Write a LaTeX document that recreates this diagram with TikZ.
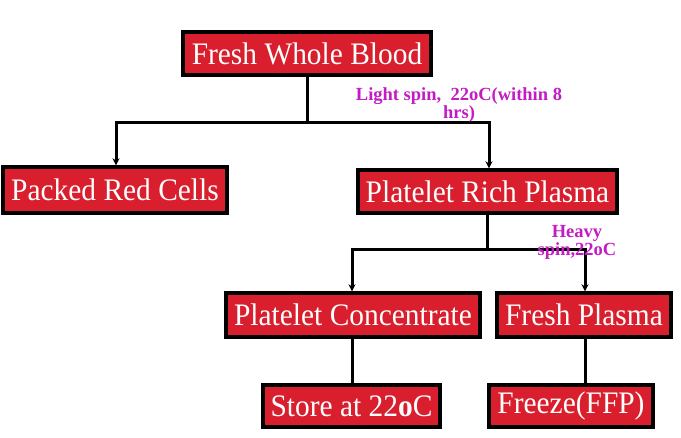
\documentclass[tikz,border=0pt]{standalone}
\usepackage{fontspec}
\setmainfont{Liberation Serif}
\usetikzlibrary{arrows.meta}
\definecolor{boxred}{HTML}{D91F2D}
\definecolor{lblmag}{HTML}{C21CC2}
\newcommand\narrowtxt[1]{\scalebox{0.94}[1]{#1}}
\begin{document}
\begin{tikzpicture}[x=1pt,y=-1pt,
  box/.style={draw=black,line width=3.4pt,fill=boxred,text=white,font=\fontsize{31.3}{34}\selectfont,inner sep=0pt,anchor=center},
  conn/.style={line width=3pt,line cap=rect},
  arr/.style={conn,-{Stealth[length=7pt,width=7pt]}},
  lbl/.style={text=lblmag,font=\bfseries\fontsize{18.5}{15.5}\selectfont,align=center,inner sep=0pt}]
\useasboundingbox (0,0) rectangle (681,438);
\node[box,minimum width=248pt,minimum height=43pt] (fwb) at (307,53.5) {\narrowtxt{Fresh Whole Blood}};
\node[box,minimum width=224pt,minimum height=46pt] (prc) at (115,190) {\narrowtxt{Packed Red Cells}};
\node[box,minimum width=259pt,minimum height=43pt] (prp) at (487.5,191.5) {\narrowtxt{Platelet Rich Plasma}};
\node[box,minimum width=254pt,minimum height=44pt] (pc) at (353,315) {\narrowtxt{Platelet Concentrate}};
\node[box,minimum width=174pt,minimum height=44pt] (fp) at (584,315) {\narrowtxt{Fresh Plasma}};
\node[box,minimum width=177pt,minimum height=42pt] (st) at (351.5,406) {\narrowtxt{Store at 22\textbf{o}C}};
\node[box,minimum width=164pt,minimum height=42pt] (fz) at (571,406) {\narrowtxt{Freeze(FFP)}};
\coordinate (j1) at (307,123);
\coordinate (j1l) at (116,123);
\coordinate (j1r) at (489,123);
\coordinate (j2) at (487,250);
\coordinate (j2l) at (352,250);
\coordinate (j2r) at (585,250);
\draw[conn] (fwb.south) -- (j1);
\draw[arr] (j1l) -- (j1r) -- (j1r |- prp.north);
\draw[arr] (j1l) -- (j1l |- prc.north);
\draw[conn] (prp.south -| j2) -- (j2);
\draw[arr] (j2l) -- (j2r) -- (j2r |- fp.north);
\draw[arr] (j2l) -- (j2l |- pc.north);
\draw[conn] (pc.south -| j2l) -- (j2l |- st.north);
\draw[conn] (fp.south -| j2r) -- (j2r |- fz.north);
\node[lbl] (l1) at (459,105) {Light spin,\ \ 22oC(within 8\\hrs)};
\node[lbl] (l2) at (577,242) {Heavy\\spin,22oC};
\end{tikzpicture}
\end{document}
